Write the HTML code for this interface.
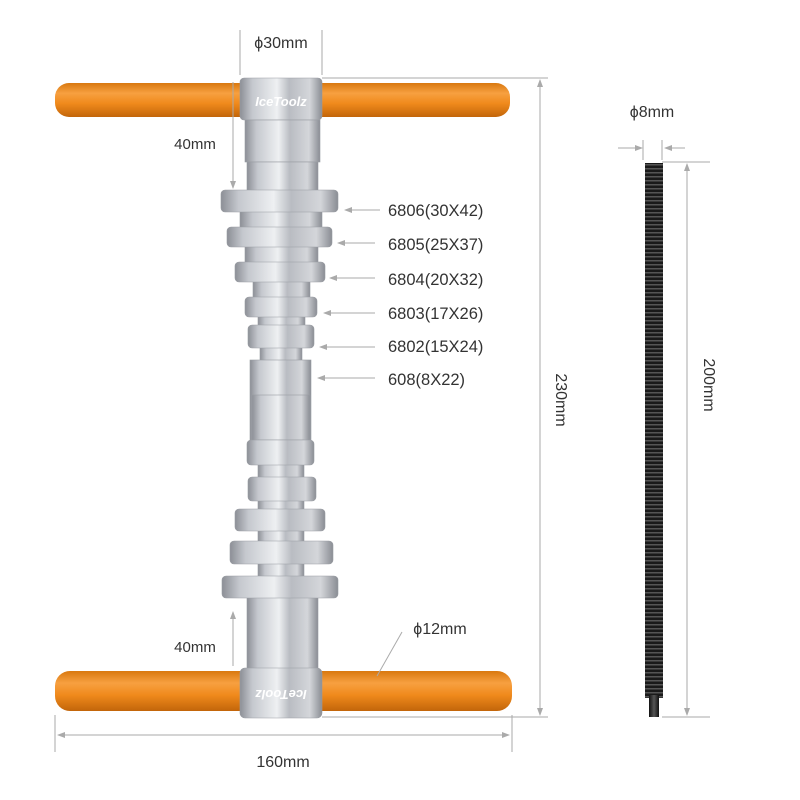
<!DOCTYPE html>
<html><head><meta charset="utf-8"><style>
html,body{margin:0;padding:0;background:#fff}
svg{display:block}
text{font-family:"Liberation Sans",sans-serif;fill:#333}
</style></head><body>
<svg width="800" height="800" viewBox="0 0 800 800" xmlns="http://www.w3.org/2000/svg">
<defs>
<linearGradient id="met" x1="0" x2="1" y1="0" y2="0">
<stop offset="0" stop-color="#8c8f96"/><stop offset="0.15" stop-color="#c5c8ce"/><stop offset="0.45" stop-color="#eef0f2"/><stop offset="0.6" stop-color="#b9bcc2"/><stop offset="0.85" stop-color="#d4d6da"/><stop offset="1" stop-color="#8a8d94"/>
</linearGradient>
<linearGradient id="org" x1="0" x2="0" y1="0" y2="1">
<stop offset="0" stop-color="#d9780f"/><stop offset="0.3" stop-color="#f7a040"/><stop offset="0.6" stop-color="#f08a1c"/><stop offset="1" stop-color="#c2650a"/>
</linearGradient>
<linearGradient id="rod" x1="0" x2="1"><stop offset="0" stop-color="#111"/><stop offset="0.5" stop-color="#555"/><stop offset="1" stop-color="#111"/></linearGradient>
<pattern id="thr" width="17" height="4" patternUnits="userSpaceOnUse"><rect width="17" height="4" fill="#1a1a1a"/><rect y="0" width="17" height="1.5" fill="#555"/></pattern>
<marker id="ar" markerWidth="8" markerHeight="6" refX="7" refY="3" orient="auto"><path d="M0,0L8,3L0,6z" fill="#aaa"/></marker>
<marker id="as" markerWidth="8" markerHeight="6" refX="1" refY="3" orient="auto"><path d="M8,0L0,3L8,6z" fill="#aaa"/></marker>
</defs>

<rect x="55" y="83" width="455" height="34" rx="14" fill="url(#org)"/>
<rect x="55" y="671" width="457" height="40" rx="15" fill="url(#org)"/>

<g fill="url(#met)" stroke="#9a9da3" stroke-width="0.6">
<rect x="240" y="78" width="82" height="42" rx="4"/>
<rect x="245" y="120" width="75" height="42"/>
<rect x="247" y="162" width="71" height="30"/>
<rect x="240" y="210" width="82" height="18"/>
<rect x="221" y="190" width="117" height="22" rx="4"/>
<rect x="245" y="245" width="73" height="18"/>
<rect x="227" y="227" width="105" height="20" rx="4"/>
<rect x="253" y="280" width="57" height="18"/>
<rect x="235" y="262" width="90" height="20" rx="4"/>
<rect x="258" y="315" width="47" height="12"/>
<rect x="245" y="297" width="72" height="20" rx="4"/>
<rect x="260" y="346" width="42" height="16"/>
<rect x="248" y="325" width="66" height="23" rx="4"/>
<rect x="250" y="360" width="61" height="82"/>
<rect x="252" y="395" width="58" height="50"/>
<rect x="258" y="440" width="46" height="150"/>
<rect x="247" y="440" width="67" height="25" rx="4"/>
<rect x="248" y="477" width="68" height="24" rx="4"/>
<rect x="235" y="509" width="90" height="22" rx="4"/>
<rect x="230" y="541" width="103" height="23" rx="4"/>
<rect x="247" y="590" width="71" height="80"/>
<rect x="222" y="576" width="116" height="22" rx="4"/>
<rect x="240" y="668" width="82" height="50" rx="5"/>
</g>
<text x="281" y="106" text-anchor="middle" font-size="13" font-weight="bold" font-style="italic" style="fill:#fff">IceToolz</text>
<text x="281" y="690" text-anchor="middle" font-size="13" font-weight="bold" font-style="italic" transform="rotate(180 281 690)" style="fill:#fff">IceToolz</text>

<g stroke="#aaa" stroke-width="1" fill="none">
<line x1="240" y1="30" x2="240" y2="75"/><line x1="322" y1="30" x2="322" y2="75"/>
<line x1="233" y1="82" x2="233" y2="188" marker-end="url(#ar)"/>
<line x1="233" y1="666" x2="233" y2="612" marker-end="url(#ar)"/>
<line x1="322" y1="78" x2="548" y2="78"/><line x1="322" y1="717" x2="548" y2="717"/>
<line x1="540" y1="80" x2="540" y2="715" marker-start="url(#as)" marker-end="url(#ar)"/>
<line x1="55" y1="715" x2="55" y2="752"/><line x1="512" y1="715" x2="512" y2="752"/>
<line x1="58" y1="735" x2="509" y2="735" marker-start="url(#as)" marker-end="url(#ar)"/>
<line x1="380" y1="210" x2="345" y2="210" marker-end="url(#ar)"/>
<line x1="375" y1="243" x2="338" y2="243" marker-end="url(#ar)"/>
<line x1="375" y1="278" x2="330" y2="278" marker-end="url(#ar)"/>
<line x1="375" y1="313" x2="324" y2="313" marker-end="url(#ar)"/>
<line x1="375" y1="347" x2="320" y2="347" marker-end="url(#ar)"/>
<line x1="375" y1="378" x2="318" y2="378" marker-end="url(#ar)"/>
<line x1="402" y1="632" x2="377" y2="676"/>
<line x1="618" y1="148" x2="642" y2="148" marker-end="url(#ar)"/>
<line x1="685" y1="148" x2="665" y2="148" marker-end="url(#ar)"/>
<line x1="643" y1="140" x2="643" y2="160"/><line x1="662" y1="140" x2="662" y2="160"/>
<line x1="662" y1="162" x2="710" y2="162"/><line x1="662" y1="717" x2="710" y2="717"/>
<line x1="687" y1="164" x2="687" y2="715" marker-start="url(#as)" marker-end="url(#ar)"/>
</g>

<rect x="645" y="163" width="18" height="535" fill="url(#thr)"/>
<rect x="649" y="695" width="10" height="22" fill="url(#rod)"/>

<text x="281" y="48" text-anchor="middle" font-size="16">ϕ30mm</text>
<text x="195" y="149" text-anchor="middle" font-size="15">40mm</text>
<text x="195" y="652" text-anchor="middle" font-size="15">40mm</text>
<text x="388" y="216" font-size="16.5">6806(30X42)</text>
<text x="388" y="250" font-size="16.5">6805(25X37)</text>
<text x="388" y="285" font-size="16.5">6804(20X32)</text>
<text x="388" y="319" font-size="16.5">6803(17X26)</text>
<text x="388" y="352" font-size="16.5">6802(15X24)</text>
<text x="388" y="385" font-size="16.5">608(8X22)</text>
<text x="440" y="634" text-anchor="middle" font-size="16">ϕ12mm</text>
<text x="283" y="767" text-anchor="middle" font-size="16">160mm</text>
<text x="652" y="117" text-anchor="middle" font-size="16">ϕ8mm</text>
<text x="556" y="400" text-anchor="middle" font-size="16" transform="rotate(90 556 400)">230mm</text>
<text x="704" y="385" text-anchor="middle" font-size="16" transform="rotate(90 704 385)">200mm</text>
</svg>
</body></html>
